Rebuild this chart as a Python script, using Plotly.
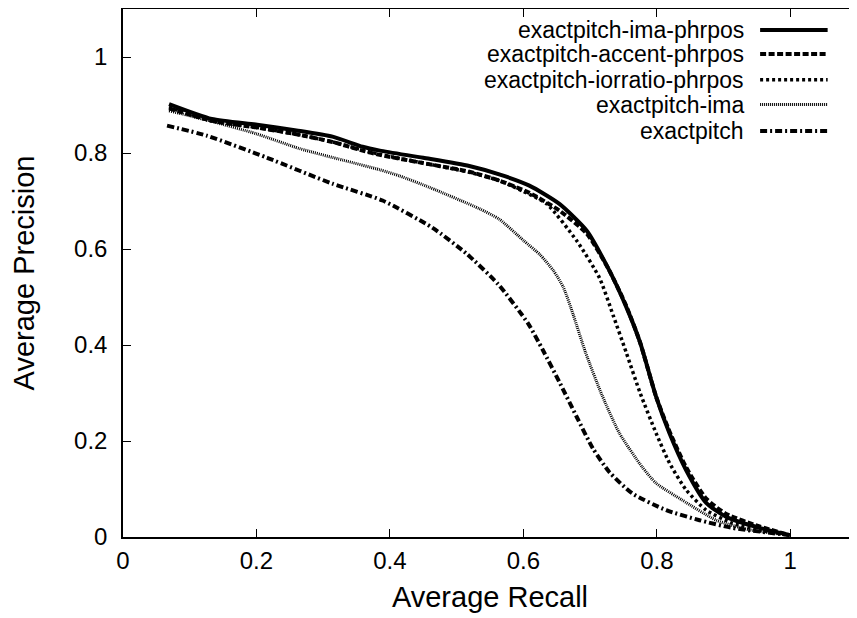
import plotly.graph_objects as go

# average recall / precision curves
ima_phrpos_x = [0.069, 0.133, 0.201, 0.26, 0.314, 0.359, 0.385, 0.45, 0.519, 0.565, 0.609, 0.654,
                0.695, 0.727, 0.754, 0.775, 0.799, 0.819, 0.844, 0.874, 0.904, 0.954, 0.999]
ima_phrpos_y = [0.902, 0.871, 0.859, 0.847, 0.834, 0.813, 0.805, 0.79, 0.773, 0.755, 0.732, 0.694,
                0.638, 0.56, 0.48, 0.405, 0.292, 0.216, 0.139, 0.071, 0.042, 0.019, 0.004]

accent_phrpos_x = [0.069, 0.133, 0.201, 0.26, 0.314, 0.359, 0.385, 0.45, 0.519, 0.565, 0.609, 0.654,
                   0.695, 0.727, 0.754, 0.775, 0.799, 0.819, 0.844, 0.874, 0.904, 0.954, 0.999]
accent_phrpos_y = [0.893, 0.867, 0.853, 0.839, 0.823, 0.805, 0.796, 0.779, 0.761, 0.742, 0.717, 0.68,
                   0.632, 0.56, 0.482, 0.405, 0.292, 0.22, 0.145, 0.08, 0.048, 0.022, 0.004]

iorratio_phrpos_x = [0.069, 0.133, 0.201, 0.26, 0.314, 0.359, 0.385, 0.45, 0.519, 0.565, 0.6, 0.635,
                     0.68, 0.714, 0.735, 0.754, 0.775, 0.799, 0.819, 0.844, 0.874, 0.913, 0.955, 0.999]
iorratio_phrpos_y = [0.896, 0.867, 0.853, 0.839, 0.823, 0.806, 0.797, 0.779, 0.76, 0.742, 0.72, 0.694,
                     0.617, 0.54, 0.46, 0.385, 0.3, 0.216, 0.154, 0.098, 0.056, 0.029, 0.014, 0.004]

ima_x = [0.069, 0.13, 0.2, 0.265, 0.33, 0.385, 0.415, 0.46, 0.534, 0.564, 0.6, 0.625, 0.645,
         0.66, 0.675, 0.693, 0.718, 0.744, 0.778, 0.799, 0.838, 0.889, 0.939, 0.999]
ima_y = [0.888, 0.867, 0.84, 0.809, 0.785, 0.765, 0.752, 0.728, 0.684, 0.662, 0.618, 0.588, 0.555,
         0.52, 0.462, 0.385, 0.295, 0.216, 0.146, 0.112, 0.077, 0.035, 0.015, 0.004]

exact_x = [0.066, 0.126, 0.216, 0.314, 0.389, 0.464, 0.515, 0.562, 0.607, 0.629, 0.655, 0.68,
           0.704, 0.729, 0.763, 0.814, 0.864, 0.913, 0.999]
exact_y = [0.857, 0.836, 0.79, 0.736, 0.701, 0.644, 0.59, 0.527, 0.445, 0.39, 0.32, 0.25,
           0.185, 0.135, 0.091, 0.056, 0.035, 0.019, 0.004]

names = ['exactpitch-ima-phrpos', 'exactpitch-accent-phrpos', 'exactpitch-iorratio-phrpos',
         'exactpitch-ima', 'exactpitch']
tick_vals = [0, 0.2, 0.4, 0.6, 0.8, 1]
tick_text = ['0', '0.2', '0.4', '0.6', '0.8', '1']

series = [(ima_phrpos_x, ima_phrpos_y), (accent_phrpos_x, accent_phrpos_y),
          (iorratio_phrpos_x, iorratio_phrpos_y), (ima_x, ima_y), (exact_x, exact_y)]
styles = [dict(dash='solid', width=4),
          dict(dash='6px,2.5px', width=4),
          dict(dash='3px,3px', width=3.5),
          dict(dash='1px,1px', width=3),
          dict(dash='7px,3px,2px,3px', width=4)]

FONT = 'Liberation Sans, Arial, sans-serif'

fig = go.Figure()
for (xs, ys), name, st in zip(series, names, styles):
    fig.add_trace(go.Scatter(x=xs, y=ys, name=name, mode='lines',
                             line=dict(color='black', shape='spline', smoothing=0.6, **st)))

# gnuplot style key: text right aligned, line sample on the right
row_y = [0.960, 0.915, 0.866, 0.819, 0.769]
for name, st, yy in zip(names, styles, row_y):
    fig.add_annotation(xref='paper', yref='paper', x=0.849, y=yy, text=name,
                       showarrow=False, xanchor='right', yanchor='middle',
                       font=dict(size=23, color='black', family=FONT))
    fig.add_shape(type='line', xref='paper', yref='paper', x0=0.868, x1=0.96, y0=yy, y1=yy,
                  line=dict(color='black', **st))

axis = dict(range=[0, 1.1], tickvals=tick_vals, ticktext=tick_text, ticks='inside',
            ticklen=8, tickwidth=1, tickcolor='black', showline=True, linecolor='black',
            linewidth=1.5, mirror='allticks', showgrid=False, zeroline=False, automargin=False,
            tickfont=dict(size=24, color='black', family=FONT))

# the page body has an 8px margin, so the figure is made 8px smaller each way
fig.update_layout(
    width=849, height=610,
    margin=dict(l=115, r=0, t=1, b=81),
    paper_bgcolor='white', plot_bgcolor='white',
    showlegend=False,
    font=dict(family=FONT, size=24, color='black'),
    xaxis=dict(axis, title=dict(text='Average Recall', standoff=14), ticklabelstandoff=1),
    yaxis=dict(axis, title=dict(text='Average Precision', standoff=45), ticklabelstandoff=9),
)

fig.write_html("out.html")
